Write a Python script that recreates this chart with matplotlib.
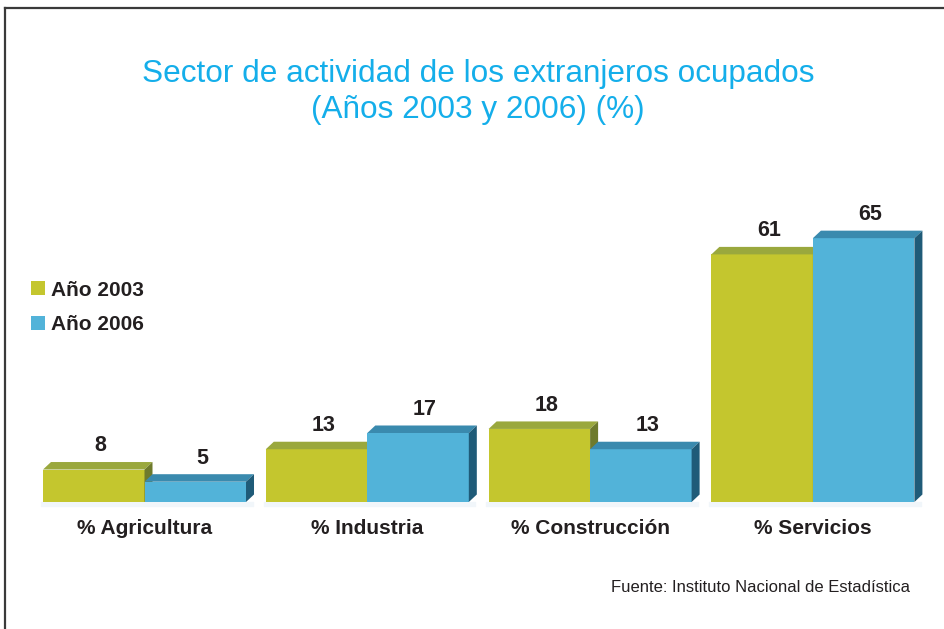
import numpy as np
import matplotlib
matplotlib.use('Agg')
import matplotlib.pyplot as plt
from matplotlib.patches import Polygon, Patch
from matplotlib.lines import Line2D

# Data
categories = ['% Agricultura', '% Industria', '% Construcción', '% Servicios']
years = ['Año 2003', 'Año 2006']
values_2003 = [8, 13, 18, 61]
values_2006 = [5, 17, 13, 65]

# colours: front, top, side
green = ('#c4c62e', '#9aa83d', '#6e7a2c')
blue = ('#52b3d9', '#3a8aae', '#1f5b78')
text_dark = '#231f20'
title_blue = '#14aeea'

plt.rcParams['font.family'] = ['Liberation Sans', 'DejaVu Sans']

fig = plt.figure(figsize=(9.45, 6.29), dpi=100)
W, H = 945, 629
# plot area in pixels
left_px, right_px, bottom_px, top_px = 20, 935, 502, 200
ax = fig.add_axes([left_px / W, (H - bottom_px) / H,
                   (right_px - left_px) / W, (bottom_px - top_px) / H])
ax.set_xlim(-0.5588, 3.548)
ax.set_ylim(0, 74.4)
ax.axis('off')

x = np.arange(len(categories))
w = 0.4556

# depth of the fake 3d effect, in pixels -> data units
px_x = (ax.transData.transform((1, 0)) - ax.transData.transform((0, 0)))[0]
px_y = (ax.transData.transform((0, 1)) - ax.transData.transform((0, 0)))[1]
dx = 8 / px_x
dy = 7.5 / px_y

# faint floor shadow under each group
for xi in x:
    ax.fill_between([xi - w - 0.01, xi + w + 0.03], -1.0, 0, color='#f1f6fa',
                    zorder=0, clip_on=False)


def bar3d(xc, h, cols):
    x0, x1 = xc - w / 2, xc + w / 2
    ax.bar(xc, h, width=w, color=cols[0], linewidth=0, zorder=2)
    ax.add_patch(Polygon([(x0, h), (x1, h), (x1 + dx, h + dy), (x0 + dx, h + dy)],
                         closed=True, color=cols[1], linewidth=0, zorder=2))
    ax.add_patch(Polygon([(x1, 0), (x1 + dx, dy), (x1 + dx, h + dy), (x1, h)],
                         closed=True, color=cols[2], linewidth=0, zorder=2))
    ax.annotate(f'{h}', (xc, h), xytext=(5, 17), textcoords='offset points',
                ha='center', va='center', fontsize=15.5, fontweight='bold',
                color=text_dark, zorder=5)


for i in range(len(categories)):
    bar3d(x[i] - w / 2, values_2003[i], green)
    bar3d(x[i] + w / 2, values_2006[i], blue)
    ax.annotate(categories[i], (x[i], 0), xytext=(0, -19), textcoords='offset points',
                ha='center', va='center', fontsize=15, fontweight='bold',
                color=text_dark, annotation_clip=False)

# title
fig.text(0.506, 1 - 92 / H, 'Sector de actividad de los extranjeros ocupados\n(Años 2003 y 2006) (%)',
         ha='center', va='center', fontsize=22.7, color=title_blue, linespacing=1.3)

# legend
handles = [Patch(facecolor=green[0], edgecolor='none'),
           Patch(facecolor=blue[0], edgecolor='none')]
leg = fig.legend(handles, years, loc='center left', bbox_to_anchor=(31 / W, 0.511),
                 frameon=False, borderpad=0, borderaxespad=0, handlelength=0.66,
                 handleheight=0.66, handletextpad=0.28, labelspacing=0.75,
                 prop={'size': 15, 'weight': 'bold'})
for t in leg.get_texts():
    t.set_color(text_dark)

# source
fig.text(910 / W, 1 - 587 / H, 'Fuente: Instituto Nacional de Estadística',
         ha='right', va='center', fontsize=12, color=text_dark)

# frame lines (left and top only)
fig.add_artist(Line2D([5 / W, 5 / W], [0, 1 - 8 / H], color='#3a3a3a', lw=1.6))
fig.add_artist(Line2D([5 / W, 1], [1 - 8 / H, 1 - 8 / H], color='#3a3a3a', lw=1.6))

fig.savefig('out.png', dpi=100)
